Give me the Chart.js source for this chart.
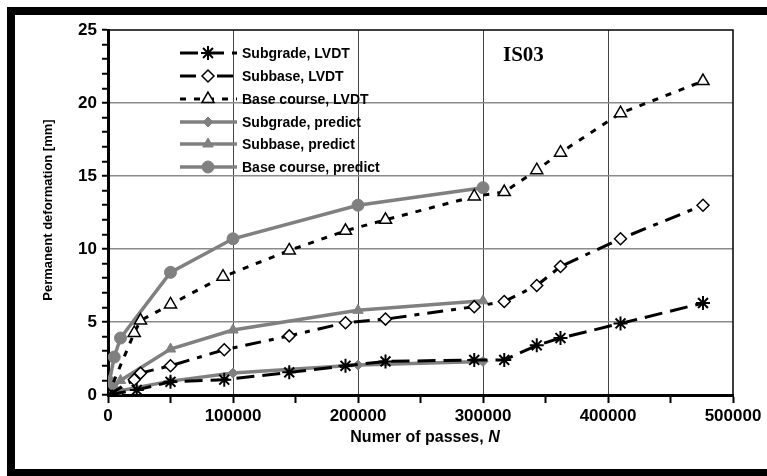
<!DOCTYPE html>
<html>
<head>
<meta charset="utf-8">
<script src="https://cdn.jsdelivr.net/npm/chart.js@4.4.1/dist/chart.umd.min.js"></script>
<style>
  html, body { margin: 0; padding: 0; background: #fff; }
  #wrap { width: 767px; height: 476px; }
</style>
</head>
<body>
<div id="wrap"><canvas id="c"></canvas></div>
<script>
// measured series (N passes -> deformation mm)
const subgradeLvdtX = [0, 23000, 50000, 93000, 145000, 190000, 222000, 293000, 317000, 343000, 362000, 410000, 476000];
const subgradeLvdtY = [0, 0.35, 0.9, 1.05, 1.55, 2.0, 2.3, 2.4, 2.4, 3.4, 3.9, 4.9, 6.3];
const subbaseLvdtX = [0, 21000, 26000, 50000, 93000, 145000, 190000, 222000, 293000, 317000, 343000, 362000, 410000, 476000];
const subbaseLvdtY = [0, 1.05, 1.5, 2.0, 3.1, 4.05, 4.95, 5.2, 6.05, 6.4, 7.5, 8.8, 10.7, 13.0];
const baseLvdtX = [0, 21000, 26000, 50000, 92000, 145000, 190000, 222000, 293000, 317000, 343000, 362000, 410000, 476000];
const baseLvdtY = [0, 4.25, 5.1, 6.2, 8.1, 9.9, 11.25, 12.0, 13.6, 13.9, 15.4, 16.6, 19.3, 21.5];

// predicted series
const predictX = [0, 1000, 5000, 10000, 50000, 100000, 200000, 300000];
const subgradePredY = [0, 0.1, 0.2, 0.3, 0.95, 1.5, 2.05, 2.3];
const subbasePredY = [0, 0.3, 0.6, 1.0, 3.15, 4.45, 5.8, 6.45];
const basePredY = [0, 0.9, 2.6, 3.9, 8.4, 10.7, 13.0, 14.2];

const seriesNames = ['Subgrade, LVDT', 'Subbase, LVDT', 'Base course, LVDT',
                     'Subgrade, predict', 'Subbase, predict', 'Base course, predict'];
const xTickValues = [0, 100000, 200000, 300000, 400000, 500000];
const yTickValues = [0, 5, 10, 15, 20, 25];

const gray = '#808080';
const pts = (xs, ys) => xs.map((x, i) => ({ x: x, y: ys[i] }));

Chart.defaults.font.family = '"Liberation Sans", Arial, sans-serif';
Chart.defaults.color = '#000';

const datasets = [
  { label: seriesNames[0], data: pts(subgradeLvdtX, subgradeLvdtY), borderColor: '#000', borderWidth: 3,
    borderDash: [18, 8], pointStyle: 'star', pointRadius: 7, pointBorderWidth: 2,
    pointBorderColor: '#000', pointBackgroundColor: '#000' },
  { label: seriesNames[1], data: pts(subbaseLvdtX, subbaseLvdtY), borderColor: '#000', borderWidth: 3,
    borderDash: [16, 8, 5, 8], pointStyle: 'rectRot', pointRadius: 6, pointBorderWidth: 1.5,
    pointBorderColor: '#000', pointBackgroundColor: '#fff' },
  { label: seriesNames[2], data: pts(baseLvdtX, baseLvdtY), borderColor: '#000', borderWidth: 3,
    borderDash: [6, 8], pointStyle: 'triangle', pointRadius: 7, pointBorderWidth: 1.5,
    pointBorderColor: '#000', pointBackgroundColor: '#fff' },
  { label: seriesNames[3], data: pts(predictX, subgradePredY), borderColor: gray, borderWidth: 3.5,
    pointStyle: 'rectRot', pointRadius: 5, pointBorderWidth: 1,
    pointBorderColor: gray, pointBackgroundColor: gray },
  { label: seriesNames[4], data: pts(predictX, subbasePredY), borderColor: gray, borderWidth: 3.5,
    pointStyle: 'triangle', pointRadius: 6, pointBorderWidth: 1,
    pointBorderColor: gray, pointBackgroundColor: gray },
  { label: seriesNames[5], data: pts(predictX, basePredY), borderColor: gray, borderWidth: 3.5,
    pointStyle: 'circle', pointRadius: 6, pointBorderWidth: 1,
    pointBorderColor: gray, pointBackgroundColor: gray }
];

// frame, legend, titles and the IS03 tag
const decorations = {
  id: 'decorations',
  beforeDraw(chart) {
    const ctx = chart.ctx;
    ctx.save();
    ctx.fillStyle = '#fff';
    ctx.fillRect(0, 0, chart.width, chart.height);
    ctx.restore();
  },
  afterDraw(chart) {
    const ctx = chart.ctx;
    const a = chart.chartArea;
    ctx.save();

    // thin top/right border of the plot
    ctx.strokeStyle = '#000';
    ctx.lineWidth = 1.5;
    ctx.beginPath();
    ctx.moveTo(a.left, a.top);
    ctx.lineTo(a.right, a.top);
    ctx.lineTo(a.right, a.bottom);
    ctx.stroke();

    // heavy outer frame
    ctx.lineWidth = 8;
    ctx.strokeRect(11, 11, 820, 462);

    // legend
    const rows = [53, 76, 99, 122, 144, 167];
    chart.data.datasets.forEach((ds, i) => {
      const y = rows[i];
      ctx.setLineDash(ds.borderDash || []);
      ctx.strokeStyle = ds.borderColor;
      ctx.lineWidth = ds.borderWidth;
      ctx.beginPath();
      ctx.moveTo(180, y);
      ctx.lineTo(237, y);
      ctx.stroke();
      ctx.setLineDash([]);
      ctx.fillStyle = ds.pointBackgroundColor;
      ctx.strokeStyle = ds.pointBorderColor;
      ctx.lineWidth = ds.pointBorderWidth;
      Chart.helpers.drawPoint(ctx, { pointStyle: ds.pointStyle, radius: ds.pointRadius,
        rotation: 0, borderWidth: ds.pointBorderWidth }, 208, y);
      ctx.fillStyle = '#000';
      ctx.font = 'bold 14px "Liberation Sans", Arial, sans-serif';
      ctx.textAlign = 'left';
      ctx.textBaseline = 'middle';
      ctx.fillText(ds.label, 242, y + 1);
    });

    // IS03
    ctx.font = 'bold 21px "Liberation Serif", "Times New Roman", serif';
    ctx.textAlign = 'left';
    ctx.textBaseline = 'alphabetic';
    ctx.fillText('IS03', 503, 61);

    // y title
    ctx.save();
    ctx.translate(48, 210);
    ctx.rotate(-Math.PI / 2);
    ctx.font = 'bold 13px "Liberation Sans", Arial, sans-serif';
    ctx.textAlign = 'center';
    ctx.textBaseline = 'middle';
    ctx.fillText('Permanent deformation [mm]', 0, 0);
    ctx.restore();

    // x title with italic N
    const part1 = 'Numer of passes, ';
    const part2 = 'N';
    ctx.font = 'bold 16px "Liberation Sans", Arial, sans-serif';
    const w1 = ctx.measureText(part1).width;
    ctx.font = 'bold italic 16px "Liberation Sans", Arial, sans-serif';
    const w2 = ctx.measureText(part2).width;
    let x0 = 425 - (w1 + w2) / 2;
    ctx.textAlign = 'left';
    ctx.textBaseline = 'middle';
    ctx.font = 'bold 16px "Liberation Sans", Arial, sans-serif';
    ctx.fillText(part1, x0, 438);
    ctx.font = 'bold italic 16px "Liberation Sans", Arial, sans-serif';
    ctx.fillText(part2, x0 + w1, 438);

    ctx.restore();
  }
};

new Chart(document.getElementById('c'), {
  type: 'scatter',
  data: { datasets: datasets.map(d => Object.assign({ showLine: true, fill: false, tension: 0 }, d)) },
  options: {
    responsive: true,
    maintainAspectRatio: false,
    animation: false,
    layout: { padding: { top: 30, right: 34, left: 0, bottom: 0 } },
    plugins: { legend: { display: false }, tooltip: { enabled: false } },
    scales: {
      x: {
        type: 'linear', min: 0, max: 500000,
        afterFit: s => { s.height = 81; },
        ticks: {
          stepSize: 50000, autoSkip: false, maxRotation: 0, padding: 3,
          font: { size: 17, weight: 'bold' }, color: '#000',
          callback: v => xTickValues.includes(v) ? String(v) : ''
        },
        grid: {
          color: c => (c.tick && c.tick.value > 0 && c.tick.value < 500000 && c.tick.value % 100000 === 0) ? '#444' : 'rgba(0,0,0,0)',
          lineWidth: 1, tickColor: '#000', tickLength: 8, tickWidth: 2
        },
        border: { color: '#000', width: 3 }
      },
      y: {
        min: 0, max: 25,
        afterFit: s => { s.width = 108; },
        ticks: {
          stepSize: 1, autoSkip: false, padding: 5,
          font: { size: 17, weight: 'bold' }, color: '#000',
          callback: v => yTickValues.includes(v) ? String(v) : ''
        },
        grid: {
          color: c => (c.tick && c.tick.value > 0 && c.tick.value < 25 && c.tick.value % 5 === 0) ? '#8a8a8a' : 'rgba(0,0,0,0)',
          lineWidth: 1.5, tickColor: '#000', tickLength: 6, tickWidth: 2
        },
        border: { color: '#000', width: 3 }
      }
    }
  },
  plugins: [decorations]
});
</script>
</body>
</html>
